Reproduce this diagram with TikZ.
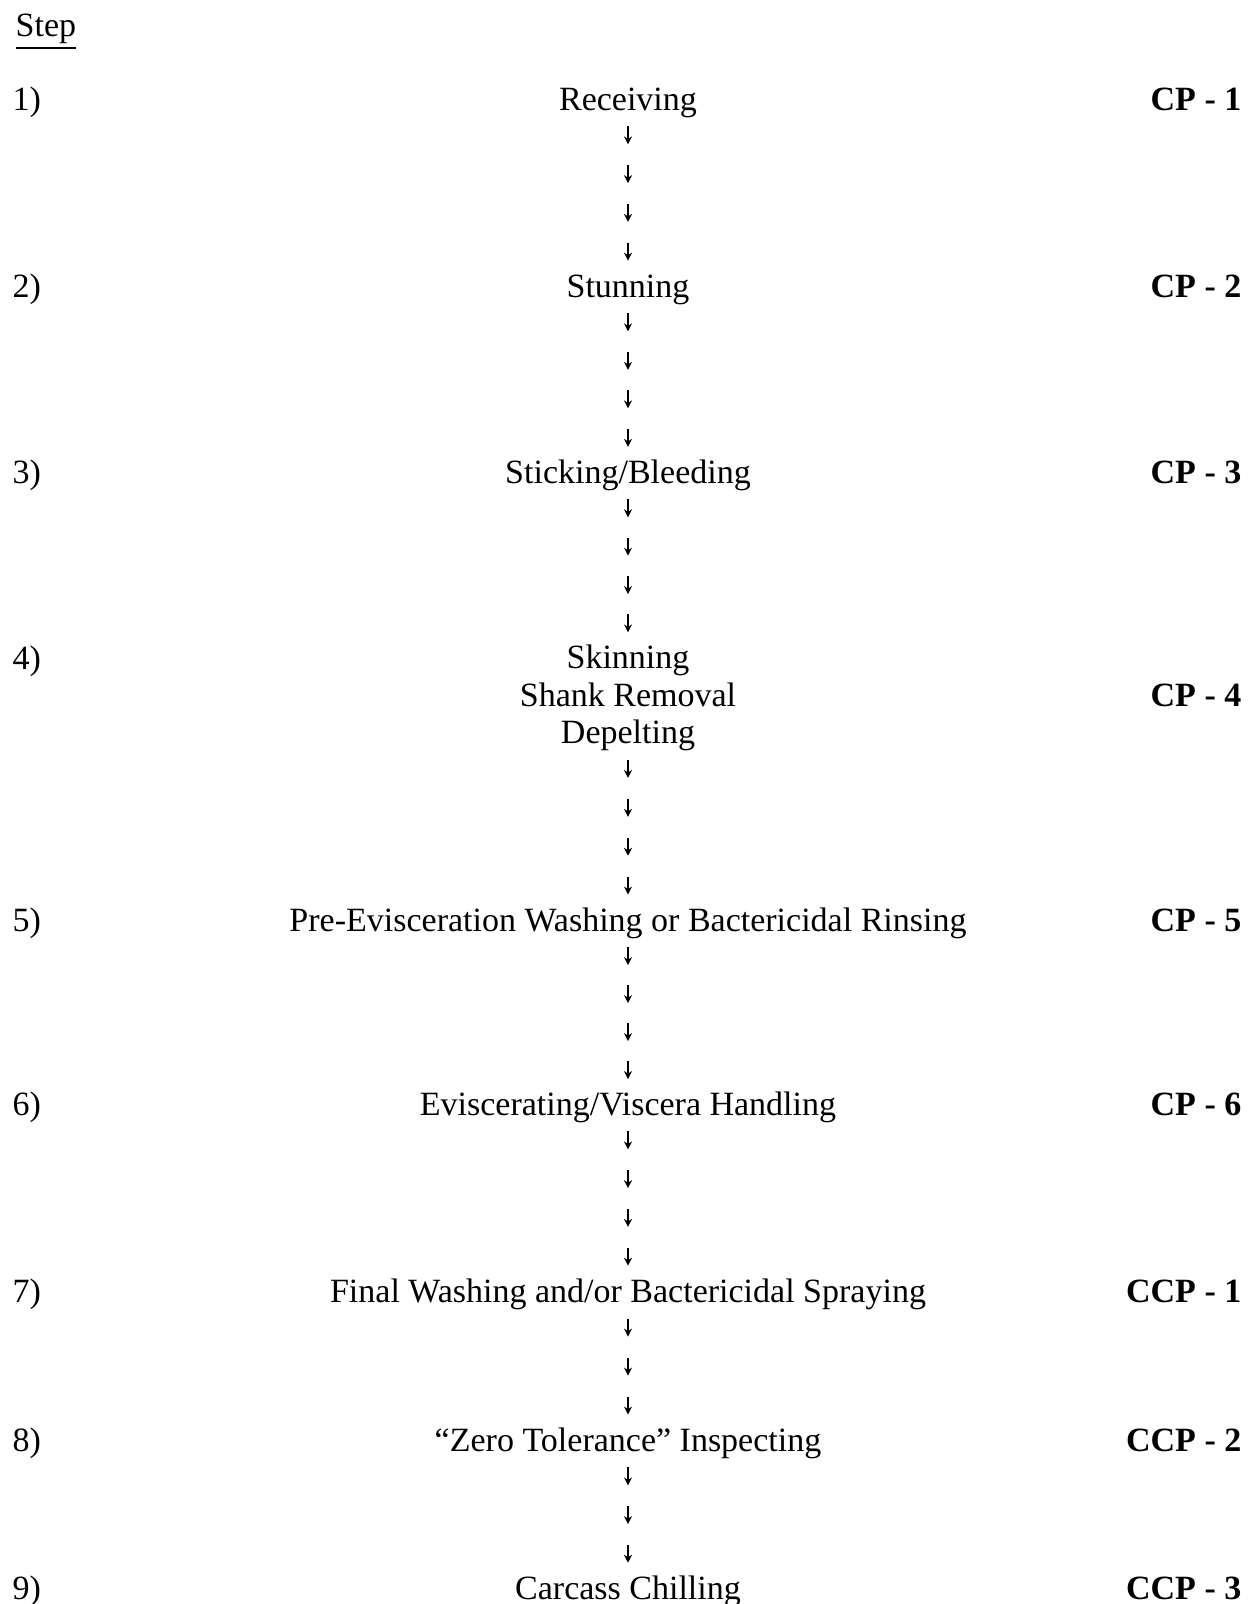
\documentclass[tikz,border=0pt]{standalone}
\usepackage{fontspec}
\setmainfont{Liberation Serif}
\usetikzlibrary{arrows.meta}

\begin{document}
\begin{tikzpicture}[x=0.3pt, y=-0.3pt, font=\fontsize{10.2pt}{11.2pt}\selectfont]
        \tikzstyle{texto}=[inner sep=0pt]
        \tikzstyle{paso}=[texto, text height=0.7em, text depth=0.22em]
        \tikzstyle{num}=[texto, anchor=base west]
        \tikzstyle{cp}=[texto, anchor=base east, font=\fontsize{10.2pt}{11.2pt}\selectfont\bfseries]
        \tikzstyle{flecha}=[line width=0.55pt, -{Stealth[length=2.4pt, width=2.4pt]}]

        \useasboundingbox (0,0) rectangle (1259,1604);

        \node[num] (titulo) at (15,36) {\underline{Step}};

        % Pasos del proceso
        \node[num] (n1) at (12,110) {1)}; \node[paso, anchor=base] (s1) at (628,110) {Receiving}; \node[cp] (cp1) at (1242,110) {CP - 1};
        \node[num] (n2) at (12,297) {2)}; \node[paso, anchor=base] (s2) at (628,297) {Stunning}; \node[cp] (cp2) at (1242,297) {CP - 2};
        \node[num] (n3) at (12,483) {3)}; \node[paso, anchor=base] (s3) at (628,483) {Sticking/Bleeding}; \node[cp] (cp3) at (1242,483) {CP - 3};
        \node[num] (n4) at (12,669) {4)}; \node[texto, align=center] (s4) at (628,698) {Skinning\\Shank Removal\\Depelting}; \node[cp] (cp4) at (1242,706) {CP - 4};
        \node[num] (n5) at (12,931) {5)}; \node[paso, anchor=base] (s5) at (628,931) {Pre-Evisceration Washing or Bactericidal Rinsing}; \node[cp] (cp5) at (1242,931) {CP - 5};
        \node[num] (n6) at (12,1115) {6)}; \node[paso, anchor=base] (s6) at (628,1115) {Eviscerating/Viscera Handling}; \node[cp] (cp6) at (1242,1115) {CP - 6};
        \node[num] (n7) at (12,1302) {7)}; \node[paso, anchor=base] (s7) at (628,1302) {Final Washing and/or Bactericidal Spraying}; \node[cp] (cp7) at (1242,1302) {CCP - 1};
        \node[num] (n8) at (12,1451) {8)}; \node[paso, anchor=base] (s8) at (628,1451) {“Zero Tolerance” Inspecting}; \node[cp] (cp8) at (1242,1451) {CCP - 2};
        \node[num] (n9) at (12,1599) {9)}; \node[paso, anchor=base] (s9) at (628,1599) {Carcass Chilling}; \node[cp] (cp9) at (1242,1599) {CCP - 3};

        % Flechas cortas entre pasos
        \foreach \a/\b/\n in {s1/s2/4, s2/s3/4, s3/s4/4, s4/s5/4, s5/s6/4, s6/s7/4, s7/s8/3, s8/s9/3}{
            \path (\a.south) -- (\b.north)
                \foreach \k in {1,...,\n}{ coordinate[pos={(\k-0.55)/\n}] (f\k) };
            \foreach \k in {1,...,\n}
                \draw[flecha] (f\k) ++(0,-9) -- ++(0,18);
        }
    \end{tikzpicture}
\end{document}
